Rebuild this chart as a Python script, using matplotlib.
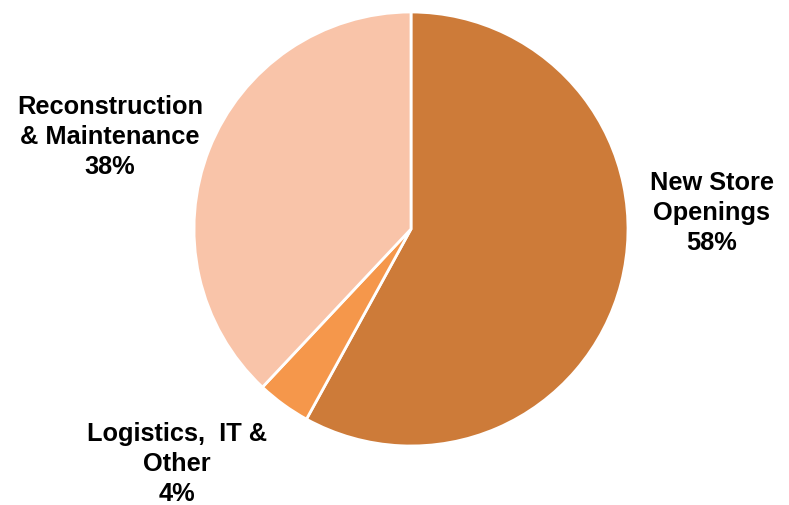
import matplotlib.pyplot as plt

plt.rcParams['font.family'] = ['Liberation Sans', 'DejaVu Sans']

categories = ['New Store\nOpenings', 'Logistics,  IT &\nOther', 'Reconstruction\n& Maintenance']
shares = [58, 4, 38]
colors = ['#CD7B39', '#F5974B', '#F9C4A9']

# label centres in pixel coordinates (x, y from top)
label_pos = [(712, 213), (177, 464), (110, 137)]

fig = plt.figure(figsize=(7.89, 5.06), dpi=100)
ax = fig.add_axes([0, 0, 1, 1])
ax.axis('off')

ax.pie(shares, colors=colors, startangle=90, counterclock=False,
       center=(411, -230), radius=217,
       wedgeprops=dict(edgecolor='white', linewidth=2))
ax.set_xlim(0, 789)
ax.set_ylim(-506, 0)
ax.set_aspect('equal')

for name, val, (x, y) in zip(categories, shares, label_pos):
    ax.text(x, -y, f'{name}\n{val}%', ha='center', va='center',
            fontsize=18.3, fontweight='bold', linespacing=1.32)

fig.savefig('out.png', dpi=100)
